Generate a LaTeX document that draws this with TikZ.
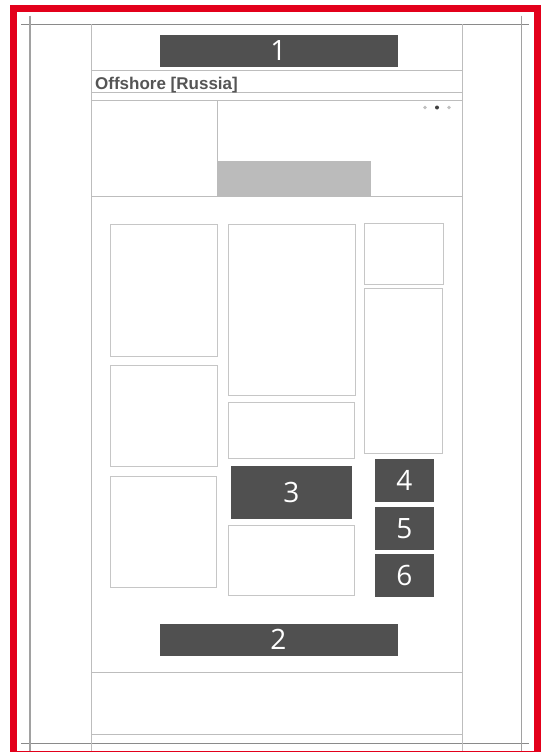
\documentclass[tikz,border=0pt]{standalone}
\usepackage{fontspec}
\setmainfont{Open Sans}
\newfontfamily\headfont{Liberation Sans}
\usepackage{tikz}
\definecolor{frame}{HTML}{E3001B}
\definecolor{rule}{HTML}{8A8A8A}
\definecolor{pageline}{HTML}{BDBDBD}
\definecolor{tileline}{HTML}{C6C6C6}
\definecolor{slab}{HTML}{505050}
\definecolor{slider}{HTML}{BBBBBB}
\definecolor{heading}{HTML}{555555}
\newcommand{\wfbox}[4]{\draw[tileline,line width=1pt] (#1,#2) rectangle (#3,#4);}
\tikzset{
  numbox/.style={fill=slab,text=white,inner sep=0pt,font=\fontsize{28}{28}\selectfont},
  hline/.style={pageline,line width=0.9pt}
}

\begin{document}
\begin{tikzpicture}[x=1pt,y=-1pt,line cap=butt,line join=miter]
  \useasboundingbox[fill=white] (0,0) rectangle (541,752);
  \draw[rule,line width=1pt] (21,24.3) -- (529,24.3);
  \draw[rule,line width=1pt] (21,743.3) -- (529,743.3);
  \draw[rule!80,line width=1.2pt] (30,15.7) -- (30,752);
  \draw[rule!80,line width=1.2pt] (521.7,15.7) -- (521.7,752);
  \draw[hline] (91,24.3) -- (91,752);
  \draw[hline] (462,24.3) -- (462,752);
  \foreach \yy in {70.7,92.3,100.7,196.5,672.3,734}{\draw[hline] (91,\yy) -- (462,\yy);}
  \draw[hline] (217,100.7) -- (217,196.5);
  \fill[slider] (217,161) rectangle (371,196.5);
  \fill[black!25] (425,107.5) circle (1.8);
  \fill[black!75] (437,107.5) circle (2);
  \fill[black!25] (449,107.5) circle (1.8);
  \node[anchor=base west,inner sep=0pt,text=heading,font=\headfont\bfseries\fontsize{17}{17}\selectfont] (title) at (95,89.5) {Offshore [Russia]};
  \wfbox{110}{224.5}{217.5}{356.5}
  \wfbox{110}{365.5}{217.5}{466.5}
  \wfbox{110}{476}{216.5}{587}
  \wfbox{228.5}{224.5}{355.5}{395.5}
  \wfbox{228.5}{402.5}{354.5}{458}
  \wfbox{228}{525}{354}{595}
  \wfbox{364}{223.5}{443.5}{284.5}
  \wfbox{364}{288}{442.5}{453}
  \node[numbox,minimum width=238pt,minimum height=31.5pt] (num1) at (278.5,50.8) {1};
  \node[numbox,minimum width=238pt,minimum height=31.5pt] (num2) at (278.5,639.8) {2};
  \node[numbox,minimum width=121pt,minimum height=53pt] (num3) at (291.5,492.5) {3};
  \node[numbox,minimum width=58.5pt,minimum height=42.5pt] (num4) at (404.25,480.25) {4};
  \node[numbox,minimum width=58.5pt,minimum height=42.5pt] (num5) at (404.25,528.25) {5};
  \node[numbox,minimum width=58.5pt,minimum height=42.5pt] (num6) at (404.25,575.25) {6};
  \draw[frame,line width=6.5pt] (13.7,8.5) rectangle (537.5,754);
\end{tikzpicture}
\end{document}
